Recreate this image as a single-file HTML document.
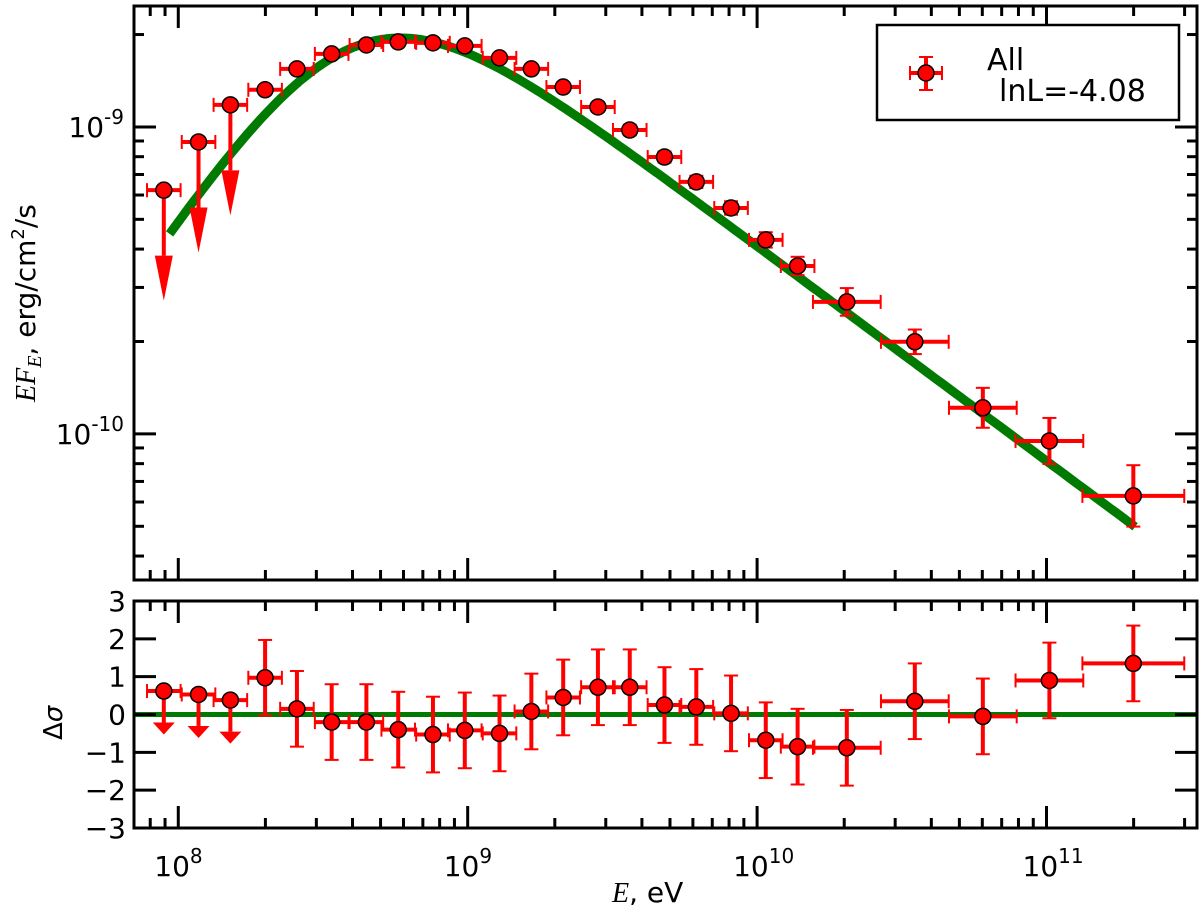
<!DOCTYPE html>
<html><head><meta charset="utf-8"><style>
body{margin:0;background:#fff}
svg text{font-family:"DejaVu Sans","Liberation Sans",sans-serif;fill:#000}
</style></head><body>
<svg id="chart" width="1200" height="910" xmlns="http://www.w3.org/2000/svg">
<rect width="1200" height="910" fill="#fff"/>
<g id="topPanel"></g><g id="botPanel"></g><g id="axes"></g>
</svg>
<script>
// ---- data ----
const logEnergy=[7.95,8.07,8.18,8.30,8.41,8.53,8.65,8.76,8.88,8.99,9.11,9.22,9.33,9.45,9.56,9.68,9.79,9.91,10.03,10.14,10.31,10.545,10.78,11.01,11.30];
const logEnergyHalfWidth=[0.058,0.058,0.058,0.058,0.058,0.058,0.058,0.058,0.058,0.058,0.058,0.058,0.058,0.058,0.058,0.058,0.058,0.058,0.058,0.058,0.117,0.117,0.117,0.117,0.176];
const logFlux=[-9.206,-9.049,-8.928,-8.879,-8.811,-8.762,-8.733,-8.723,-8.726,-8.736,-8.775,-8.811,-8.870,-8.935,-9.010,-9.098,-9.179,-9.264,-9.368,-9.453,-9.570,-9.700,-9.915,-10.023,-10.202];
const logFluxErr=[0,0,0,0.012,0.012,0.012,0.012,0.012,0.012,0.012,0.013,0.013,0.014,0.015,0.017,0.018,0.02,0.022,0.025,0.03,0.045,0.04,0.065,0.075,0.1];
const upperLimit=[1,1,1,0,0,0,0,0,0,0,0,0,0,0,0,0,0,0,0,0,0,0,0,0,0];
const residual=[0.62,0.53,0.38,0.97,0.15,-0.2,-0.2,-0.4,-0.53,-0.42,-0.5,0.08,0.45,0.72,0.72,0.25,0.2,0.03,-0.68,-0.85,-0.88,0.35,-0.05,0.9,1.35];
const residualErr=[0,0,0,1,1,1,1,1,1,1,1,1,1,1,1,1,1,1,1,1,1,1,1,1,1];
const modelParams={A:-8.42,a1:1.4,a2:-0.7,w:0.5,Lb:8.617,Lmin:7.97,Lmax:11.306};
const xTickLabels=["8","9","10","11"];
const yTopTickLabels=["-9","-10"];
const yBotTickLabels=["-3","-2","-1","0","1","2","3"];
const legendTitle="All", legendText="lnL=-4.08";

// ---- scales ----
const X0=134,X1=1197,LX0=7.847,LX1=11.52;
const T0=6,T1=580,LT0=-8.606,LT1=-10.476;
const B0=601,B1=828,RB0=3,RB1=-3;
const sx=l=>X0+(l-LX0)/(LX1-LX0)*(X1-X0);
const sy=l=>T0+(l-LT0)/(LT1-LT0)*(T1-T0);
const sr=v=>B0+(v-RB0)/(RB1-RB0)*(B1-B0);
const NS="http://www.w3.org/2000/svg";
function mk(tag,attrs,parent){const e=document.createElementNS(NS,tag);for(const k in attrs)e.setAttribute(k,attrs[k]);parent.appendChild(e);return e;}
const gTop=document.getElementById('topPanel'),gBot=document.getElementById('botPanel'),ax=document.getElementById('axes');
const RED="#ff0000";

// model
function model(L){const p=modelParams,u=L-p.Lb;return p.A+p.a1*u-(p.a1-p.a2)*p.w*Math.log10(1+Math.pow(10,u/p.w));}
let d="";for(let i=0;i<=200;i++){const L=modelParams.Lmin+(modelParams.Lmax-modelParams.Lmin)*i/200;d+=(i?"L":"M")+sx(L).toFixed(1)+","+sy(model(L)).toFixed(1);}
let mp=mk('path',{d:d,stroke:"#007a00","stroke-width":9,fill:"none"},gTop);


let zl=mk('line',{x1:X0,x2:X1,y1:sr(0),y2:sr(0),stroke:"#007a00","stroke-width":5},gBot);



function arrow(g,x,y0,y1,hw,hh){
  mk('line',{x1:x,x2:x,y1:y0,y2:y1-hh,stroke:RED,"stroke-width":4},g);
  mk('polygon',{points:`${x-hw},${y1-hh} ${x+hw},${y1-hh} ${x},${y1}`,fill:RED},g);
}
logEnergy.forEach((L,i)=>{
  const x=sx(L),xa=sx(L-logEnergyHalfWidth[i]),xb=sx(L+logEnergyHalfWidth[i]);
  const g=mk('g',{},gTop);
  
  
  const y=sy(logFlux[i]);
  mk('line',{x1:xa,x2:xb,y1:y,y2:y,stroke:RED,"stroke-width":4},g);
  mk('line',{x1:xa,x2:xa,y1:y-7,y2:y+7,stroke:RED,"stroke-width":2},g);
  mk('line',{x1:xb,x2:xb,y1:y-7,y2:y+7,stroke:RED,"stroke-width":2},g);
  if(upperLimit[i]){arrow(g,x,y,sy(logFlux[i]-0.36),9,45);}
  else{const ya=sy(logFlux[i]+logFluxErr[i]),yb=sy(logFlux[i]-logFluxErr[i]);
    mk('line',{x1:x,x2:x,y1:ya,y2:yb,stroke:RED,"stroke-width":4},g);
    mk('line',{x1:x-7,x2:x+7,y1:ya,y2:ya,stroke:RED,"stroke-width":2},g);
    mk('line',{x1:x-7,x2:x+7,y1:yb,y2:yb,stroke:RED,"stroke-width":2},g);}
  mk('circle',{cx:x,cy:y,r:8,fill:RED,stroke:"#000","stroke-width":1.5},g);
  const h=mk('g',{},gBot);
  
  
  const r=sr(residual[i]);
  mk('line',{x1:xa,x2:xb,y1:r,y2:r,stroke:RED,"stroke-width":4},h);
  mk('line',{x1:xa,x2:xa,y1:r-7,y2:r+7,stroke:RED,"stroke-width":2},h);
  mk('line',{x1:xb,x2:xb,y1:r-7,y2:r+7,stroke:RED,"stroke-width":2},h);
  if(upperLimit[i]){arrow(h,x,r,sr(residual[i]-1.15),11,12);}
  else{const ya=sr(residual[i]+residualErr[i]),yb=sr(residual[i]-residualErr[i]);
    mk('line',{x1:x,x2:x,y1:ya,y2:yb,stroke:RED,"stroke-width":4},h);
    mk('line',{x1:x-7,x2:x+7,y1:ya,y2:ya,stroke:RED,"stroke-width":2},h);
    mk('line',{x1:x-7,x2:x+7,y1:yb,y2:yb,stroke:RED,"stroke-width":2},h);}
  mk('circle',{cx:x,cy:r,r:8,fill:RED,stroke:"#000","stroke-width":1.5},h);
});

// axes frames and ticks
function frame(y0,y1,name){const r=mk('rect',{x:X0,y:y0,width:X1-X0,height:y1-y0,fill:"none",stroke:"#000","stroke-width":3},ax);}
frame(T0,T1,'flux-axes-frame');frame(B0,B1,'residual-axes-frame');
function tk(x1,y1,x2,y2,w){mk('line',{x1,y1,x2,y2,stroke:"#000","stroke-width":w||3},ax);}
for(let dec=7;dec<=11;dec++)for(let m=1;m<10;m++){const L=dec+Math.log10(m);if(L<LX0||L>LX1)continue;const x=sx(L),len=m==1?22:10;
  [[T0,T1],[B0,B1]].forEach(([a,b])=>{tk(x,a,x,a+len);tk(x,b,x,b-len);});}
for(let dec=-11;dec<=-8;dec++)for(let m=1;m<10;m++){const L=dec+Math.log10(m);if(L>LT0||L<LT1)continue;const y=sy(L),len=m==1?22:10;tk(X0,y,X0+len,y);tk(X1,y,X1-len,y);}
yBotTickLabels.forEach(v=>{const y=sr(+v);tk(X0,y,X0+22,y);tk(X1,y,X1-22,y);
  const t=mk('text',{x:X0-8,y:y+10,"font-size":28,"text-anchor":"end"},ax);t.textContent=v.replace('-','\u2212');
  });
xTickLabels.forEach(e=>{const x=sx(+e);const t=mk('text',{x:x-24,y:876,"font-size":28},ax);t.innerHTML='10<tspan dy="-13" font-size="20">'+e+'</tspan>';
  });
yTopTickLabels.forEach(e=>{const y=sy(+e);const t=mk('text',{x:X0-10,y:y+10,"font-size":28,"text-anchor":"end"},ax);t.innerHTML='10<tspan dy="-13" font-size="20">'+e+'</tspan>';
  });
let xTitle=mk('text',{x:612,y:902,"font-size":28},ax);xTitle.innerHTML='<tspan font-family="Liberation Serif" font-style="italic">E</tspan>, eV';

let yTitle=mk('text',{x:0,y:0,"font-size":28,transform:"translate(35,402) rotate(-90)"},ax);yTitle.innerHTML='<tspan font-family="Liberation Serif" font-style="italic">EF</tspan><tspan font-family="Liberation Serif" font-style="italic" font-size="20" dy="6">E</tspan><tspan dy="-6">, erg/cm</tspan><tspan font-size="18" dy="-11">2</tspan><tspan dy="11">/s</tspan>';

let rTitle=mk('text',{x:0,y:0,"font-size":26,transform:"translate(62,740) rotate(-90)","font-family":"Liberation Serif"},ax);rTitle.innerHTML='Δ<tspan font-style="italic">σ</tspan>';

const lg=mk('g',{},ax);
mk('rect',{x:877,y:25,width:302,height:95,fill:"#fff",stroke:"#000","stroke-width":2.5},lg);
mk('line',{x1:910,x2:942,y1:73,y2:73,stroke:RED,"stroke-width":4},lg);
mk('line',{x1:926,x2:926,y1:57,y2:90,stroke:RED,"stroke-width":4},lg);
[[910,66,910,80],[942,66,942,80],[919,57,933,57],[919,90,933,90]].forEach(a=>mk('line',{x1:a[0],y1:a[1],x2:a[2],y2:a[3],stroke:RED,"stroke-width":2},lg));
mk('circle',{cx:926,cy:73,r:8,fill:RED,stroke:"#000","stroke-width":1.5},lg);
let t1=mk('text',{x:987,y:70,"font-size":30,"font-family":"Liberation Sans"},lg);t1.textContent=legendTitle;
let t2=mk('text',{x:999,y:101,"font-size":30,"font-family":"Liberation Sans"},lg);t2.textContent=legendText;
</script>
</body></html>
